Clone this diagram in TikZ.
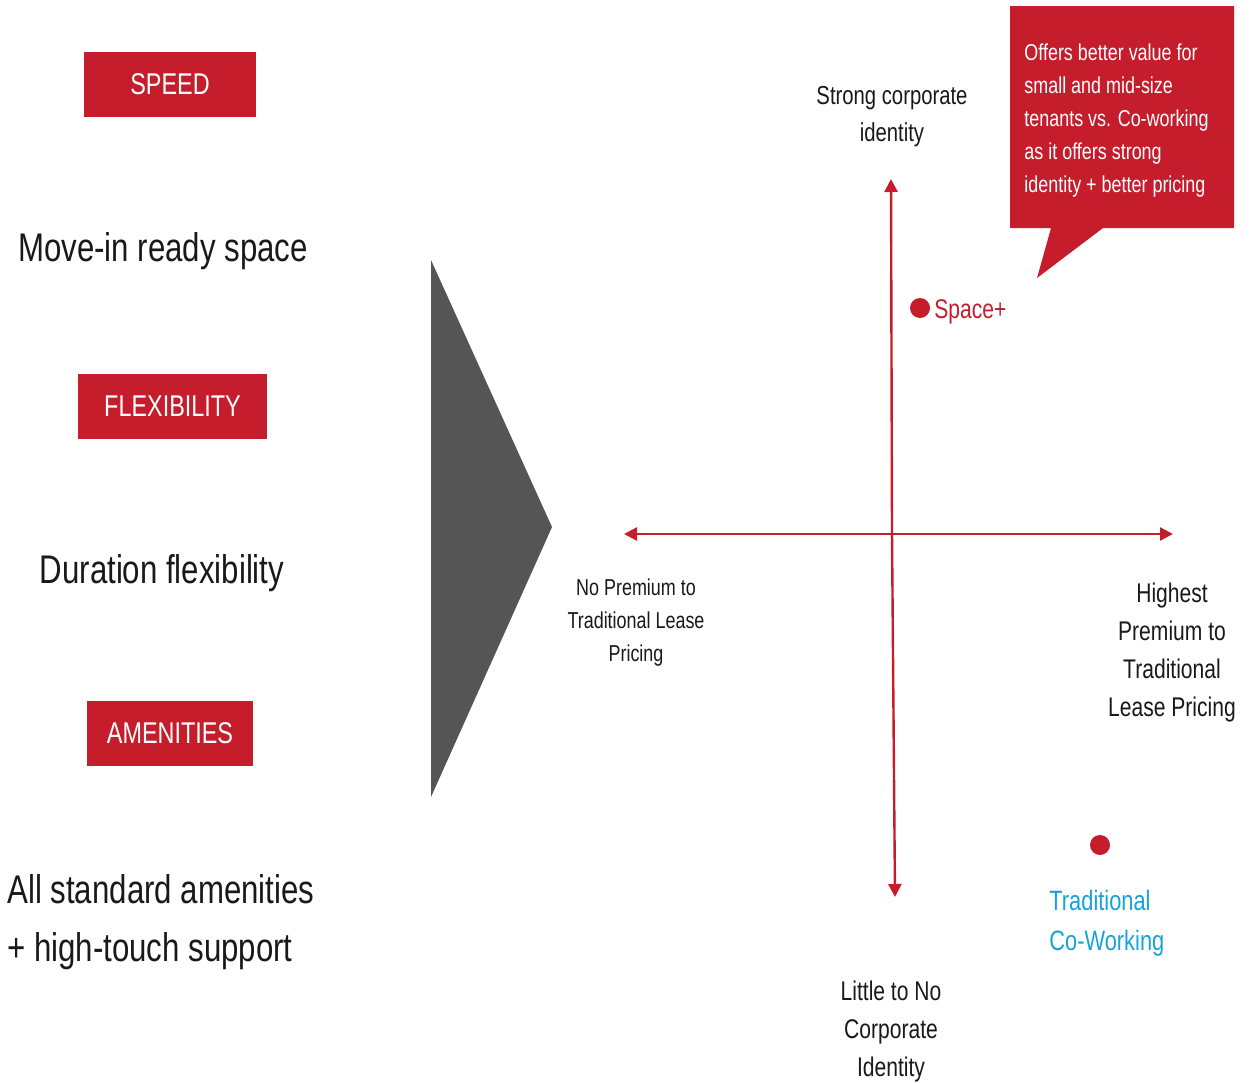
\documentclass[tikz,border=0pt]{standalone}
\usepackage{fontspec}
\setmainfont{Liberation Sans}[FakeStretch=0.78]
\usetikzlibrary{arrows.meta}

\definecolor{brandred}{RGB}{198,29,45}
\definecolor{coworkblue}{RGB}{22,163,218}
\definecolor{chevrongrey}{RGB}{85,85,85}
\definecolor{inkgrey}{RGB}{25,25,25}

\begin{document}
\begin{tikzpicture}[x=0.5pt,y=-0.5pt]
    \tikzset{
        tag/.style={
            fill=brandred, text=white, inner sep=0pt,
            minimum height=32.5pt,
            font=\fontsize{15}{18}\selectfont,
        },
        feature/.style={
            text=inkgrey, align=center, inner sep=0pt,
            font=\fontsize{20}{29}\selectfont,
        },
        axislabel/.style={
            text=inkgrey, align=center, inner sep=0pt,
            font=\fontsize{13.5}{19}\selectfont,
        },
        axis/.style={
            draw=brandred, line width=1.2pt,
            -{Triangle[length=6.5pt,width=6.5pt]},
        },
        dot/.style={
            circle, fill=brandred, inner sep=0pt, minimum size=10pt,
        },
    }
    \useasboundingbox (0,0) rectangle (1251,1082);

    % Left column
    \node[tag, minimum width=86pt] (speed) at (170,84.5) {SPEED};
    \node[feature] (movein) at (163,251) {Move-in ready space};
    \node[tag, minimum width=94.5pt] (flex) at (172.5,406.5) {FLEXIBILITY};
    \node[feature] (duration) at (162,573) {Duration flexibility};
    \node[tag, minimum width=83pt] (amen) at (170,733.5) {AMENITIES};
    \node[feature, align=left, anchor=west] (standard) at (7,922)
        {All standard amenities\\+ high-touch support};

    % Chevron
    \fill[chevrongrey] (431,260) -- (552,527) -- (431,797) -- cycle;

    % Axes
    \coordinate (origin) at (892,534);
    \coordinate (west) at (624,534);
    \coordinate (east) at (1173,534);
    \coordinate (north) at (891,179);
    \coordinate (south) at (895,897);
    \draw[axis] (origin) -- (west);
    \draw[axis] (origin) -- (east);
    \draw[axis] (origin) -- (north);
    \draw[axis] (origin) -- (south);

    \node[axislabel, font=\fontsize{13}{18.5}\selectfont] (strong) at (892,117)
        {Strong corporate\\identity};
    \node[axislabel, font=\fontsize{11.5}{16.5}\selectfont] (nopremium) at (636,623)
        {No Premium to\\Traditional Lease\\Pricing};
    \node[axislabel] (highest) at (1172,653)
        {Highest\\Premium to\\Traditional\\Lease Pricing};
    \node[axislabel] (little) at (891,1031)
        {Little to No\\Corporate\\Identity};

    % Players
    \node[dot] (spacedot) at (920,308) {};
    \node[anchor=west, inner sep=0pt, text=brandred,
          font=\fontsize{13.5}{16}\selectfont] (space) at (934,312) {Space+};
    \node[dot] (coworkdot) at (1100,845) {};
    \node[anchor=west, align=left, inner sep=0pt, text=coworkblue,
          font=\fontsize{14}{20}\selectfont] (cowork) at (1049,923)
        {Traditional\\Co-Working};

    % Callout
    \fill[brandred] (1010,6) -- (1234,6) -- (1234,228) -- (1103,228)
        -- (1037,278) -- (1051,228) -- (1010,228) -- cycle;
    \node[anchor=west, align=left, inner sep=0pt, text=white,
          font=\fontsize{11.5}{16.5}\selectfont] (callout) at (1024,121)
        {Offers better value for\\small and mid-size\\tenants vs. Co-working\\as it offers strong\\identity + better pricing};
\end{tikzpicture}
\end{document}
